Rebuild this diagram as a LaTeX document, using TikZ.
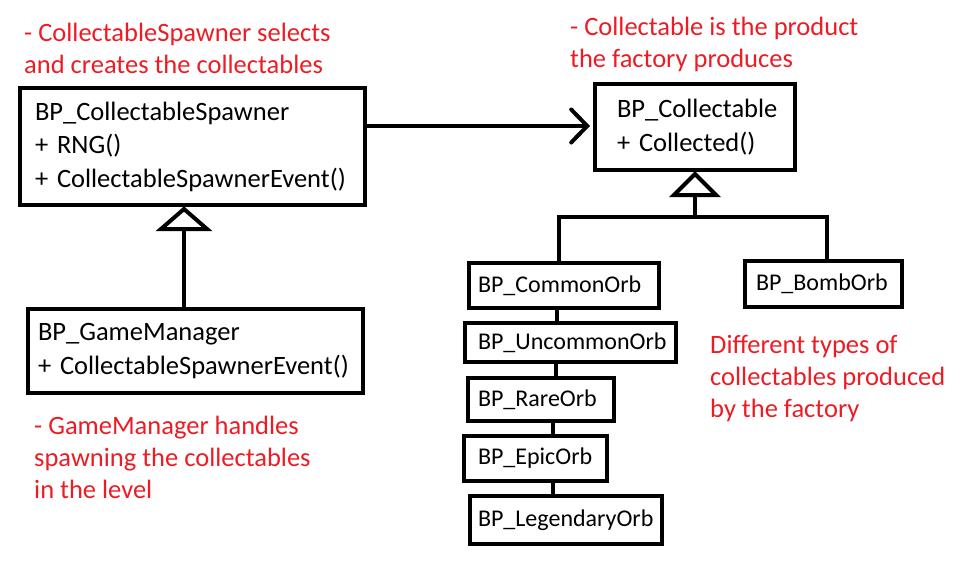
\documentclass[tikz,border=0pt]{standalone}
\usepackage{fontspec}
\setmainfont{Carlito}
\usetikzlibrary{arrows.meta}
\definecolor{notered}{RGB}{237,28,36}
\begin{document}
\begin{tikzpicture}[x=1pt,y=-1pt,
  every node/.style={font=\fontsize{26.5}{33.5}\selectfont},
  cls/.style={draw, line width=4pt, align=left, anchor=center, inner ysep=0pt},
  orb/.style={cls, font=\fontsize{24}{30}\selectfont},
  note/.style={text=notered, align=left, anchor=west, inner sep=0pt, font=\fontsize{26.5}{32}\selectfont},
  link/.style={line width=4pt},
  inh/.style={line width=4pt, fill=white, line join=miter}]
\useasboundingbox (0,0) rectangle (970,565);

% classes
\node[cls, minimum width=345pt, minimum height=117pt, text width=315pt, inner xsep=15pt] (spawner) at (192.5,146.5)
  {BP\_CollectableSpawner\\+ RNG()\\+ CollectableSpawnerEvent()};
\node[cls, minimum width=200pt, minimum height=86pt, text width=156pt, inner xsep=22pt] (coll) at (695,127)
  {BP\_Collectable\\+ Collected()};
\node[cls, minimum width=335pt, minimum height=84pt, text width=315pt, inner xsep=10pt] (gm) at (195.5,351)
  {BP\_GameManager\\+ CollectableSpawnerEvent()};

\node[orb, minimum width=190pt, minimum height=45pt, text width=172pt, inner xsep=9pt] (common) at (564,285.5) {BP\_CommonOrb};
\node[orb, minimum width=211pt, minimum height=39pt, text width=185pt, inner xsep=13pt] (uncommon) at (570.5,342.5) {BP\_UncommonOrb};
\node[orb, minimum width=146pt, minimum height=43pt, text width=126pt, inner xsep=10pt] (rare) at (541,399.5) {BP\_RareOrb};
\node[orb, minimum width=143pt, minimum height=45pt, text width=115pt, inner xsep=14pt] (epic) at (535.5,458.5) {BP\_EpicOrb};
\node[orb, minimum width=192pt, minimum height=48pt, text width=176pt, inner xsep=8pt] (legend) at (566,520) {BP\_LegendaryOrb};
\node[orb, minimum width=157pt, minimum height=46pt, text width=135pt, inner xsep=11pt] (bomb) at (823.5,284) {BP\_BombOrb};

% notes
\node[note] (n1) at (24,48.5) {- CollectableSpawner selects\\and creates the collectables};
\node[note] (n2) at (570,44) {- Collectable is the product\\the factory produces};
\node[note] (n3) at (710,378) {Different types of\\collectables produced\\by the factory};
\node[note] (n4) at (34,457) {- GameManager handles\\spawning the collectables\\in the level};

% association arrow
\draw[link, -{Straight Barb[length=16pt, width=33pt, line width=4pt, line cap=round]}]
  ([yshift=20.5pt]spawner.east) -- ([yshift=1pt,xshift=-3pt]coll.west);

% inheritance: game manager -> spawner
\coordinate (t1) at ([xshift=-8.5pt,yshift=-2pt]spawner.south);
\draw[link] (gm.north -| t1) -- ([yshift=-20pt]t1);
\draw[inh] (t1) -- ++(-23,20) -- ++(46,0) -- cycle;

% inheritance: orbs -> collectable
\coordinate (t2) at ([yshift=-2pt]coll.south);
\coordinate (bar) at (695,217);
\draw[link] ([yshift=-21pt]t2) -- (bar);
\draw[link, line join=miter] ([xshift=-5pt]common.north) |- (bar) -| ([xshift=3.5pt]bomb.north);
\draw[inh] (t2) -- ++(-21,21) -- ++(42,0) -- cycle;

% chain of orbs
\draw[link] ([xshift=-7pt]common.south) -- ([xshift=-13.5pt]uncommon.north);
\draw[link] ([xshift=-14.5pt]uncommon.south) -- ([xshift=15pt]rare.north);
\draw[link] ([xshift=12pt]rare.south) -- ([xshift=17.5pt]epic.north);
\draw[link] ([xshift=17.5pt]epic.south) -- ([xshift=-13pt]legend.north);
\end{tikzpicture}
\end{document}
